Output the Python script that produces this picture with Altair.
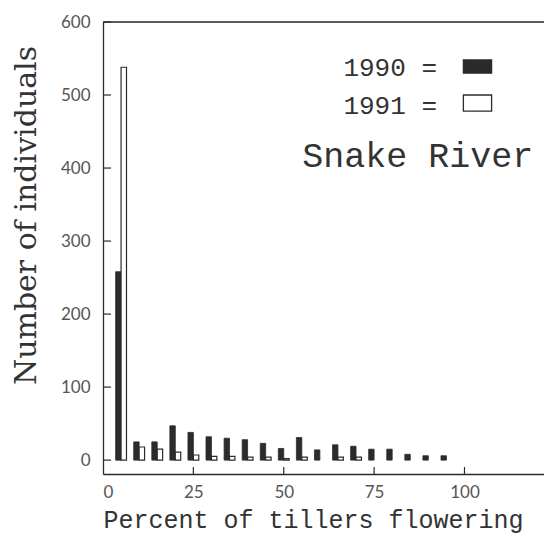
import altair as alt
import pandas as pd

# ---- data ----
pct = [5, 10, 15, 20, 25, 30, 35, 40, 45, 50, 55, 60, 65, 70, 75, 80, 85, 90, 95]
n1990 = [258, 25, 25, 47, 38, 32, 30, 28, 23, 16, 31, 14, 21, 19, 15, 15, 8, 6, 6]
n1991 = [538, 18, 15, 11, 7, 5, 5, 4, 4, 2, 4, 0, 4, 4, 0, 0, 0, 0, 0]

x_ticks = [0, 25, 50, 75, 100]
y_ticks = [0, 100, 200, 300, 400, 500, 600]

legend_labels = ["1990 =", "1991 ="]
site_label = "Snake River"

W, H = 441, 452
X_DOMAIN = [0, 122]
Y_DOMAIN = [-19, 600]
BAR_W = 1.5

rows = []
for p, a, b in zip(pct, n1990, n1991):
    rows.append({"pct": p, "year": "1990", "count": a})
    rows.append({"pct": p, "year": "1991", "count": b})
df = pd.DataFrame(rows)

xs = alt.Scale(domain=X_DOMAIN, nice=False, zero=False)
ys = alt.Scale(domain=Y_DOMAIN, nice=False, zero=False)

ink = "#2b2b2b"
label_font = "Lato"
mono = "Liberation Mono"

x_axis = alt.Axis(values=x_ticks, tickSize=0, labelFont=label_font, labelFontSize=17,
                  labelColor="#555", labelPadding=10, domainColor=ink, domainWidth=1.3,
                  grid=False, title="Percent of tillers flowering", titleFont=mono,
                  titleFontSize=25, titleFontWeight="normal", titleColor="#333",
                  titleX=210, titleY=53, titleAlign="center", titleBaseline="alphabetic")
y_axis = alt.Axis(values=y_ticks, tickSize=0, labelFont=label_font, labelFontSize=17,
                  labelColor="#555", labelPadding=13, domainColor=ink, domainWidth=1.3,
                  grid=False, title="Number of individuals", titleFont="DejaVu Serif",
                  titleFontSize=30, titleFontWeight="normal", titleColor="#333",
                  titleX=-68, titleY=193, titleAngle=270, titleAlign="center",
                  titleBaseline="alphabetic")

base = alt.Chart(df).transform_calculate(
    x0=f"datum.year == '1990' ? datum.pct - {BAR_W} : datum.pct",
    x1=f"datum.year == '1990' ? datum.pct : datum.pct + {BAR_W}",
)

bars1990 = base.transform_filter("datum.year == '1990' && datum.count > 0").mark_bar(
    color=ink, stroke=ink, strokeWidth=0.8
).encode(
    x=alt.X("x0:Q", scale=xs, axis=x_axis),
    x2="x1:Q",
    y=alt.Y("count:Q", scale=ys, axis=y_axis),
    y2=alt.datum(0),
)

bars1991 = base.transform_filter("datum.year == '1991' && datum.count > 0").mark_bar(
    color="white", stroke=ink, strokeWidth=1.2
).encode(
    x=alt.X("x0:Q", scale=xs),
    x2="x1:Q",
    y=alt.Y("count:Q", scale=ys),
    y2=alt.datum(0),
)

# inward tick marks
ytick_df = pd.DataFrame({"v": y_ticks})
yticks = alt.Chart(ytick_df).mark_rule(color=ink, strokeWidth=1.2).encode(
    y=alt.Y("v:Q", scale=ys), x=alt.value(0), x2=alt.value(8)
)
xtick_df = pd.DataFrame({"v": x_ticks[1:]})
xticks = alt.Chart(xtick_df).mark_rule(color=ink, strokeWidth=1.2).encode(
    x=alt.X("v:Q", scale=xs), y=alt.value(H), y2=alt.value(H - 7)
)
top_line = alt.Chart(ytick_df).transform_filter("datum.v == 600").mark_rule(
    color=ink, strokeWidth=1.3
).encode(y=alt.Y("v:Q", scale=ys), x=alt.value(0), x2=alt.value(W))

# legend / annotation
leg_df = pd.DataFrame({
    "label": legend_labels,
    "lx": [66.5, 66.5],
    "ly": [526, 474],
    "bx0": [99.7, 99.7],
    "bx1": [107.5, 107.5],
    "by0": [530, 478],
    "by1": [548, 500],
    "fill": [ink, "white"],
})
leg_text = alt.Chart(leg_df).mark_text(
    font=mono, fontSize=26, align="left", baseline="alphabetic", color="#333"
).encode(x=alt.X("lx:Q", scale=xs), y=alt.Y("ly:Q", scale=ys), text="label:N")
leg_box = alt.Chart(leg_df).mark_rect(stroke=ink, strokeWidth=1.3).encode(
    x=alt.X("bx0:Q", scale=xs), x2="bx1:Q",
    y=alt.Y("by0:Q", scale=ys), y2="by1:Q",
    fill=alt.Fill("fill:N", scale=None),
)
site_df = pd.DataFrame({"label": [site_label], "lx": [55.1], "ly": [402]})
site_text = alt.Chart(site_df).mark_text(
    font=mono, fontSize=35, align="left", baseline="alphabetic", color="#333"
).encode(x=alt.X("lx:Q", scale=xs), y=alt.Y("ly:Q", scale=ys), text="label:N")

chart = alt.layer(
    bars1990, bars1991, yticks, xticks, top_line, leg_box, leg_text, site_text
).properties(
    width=W, height=H,
    autosize=alt.AutoSizeParams(type="none"),
    padding={"left": 95, "top": 14, "right": 0, "bottom": 60},
).configure_view(stroke=None).configure(background="white")

chart.save("out.html", embed_options={"renderer": "svg", "actions": False})
